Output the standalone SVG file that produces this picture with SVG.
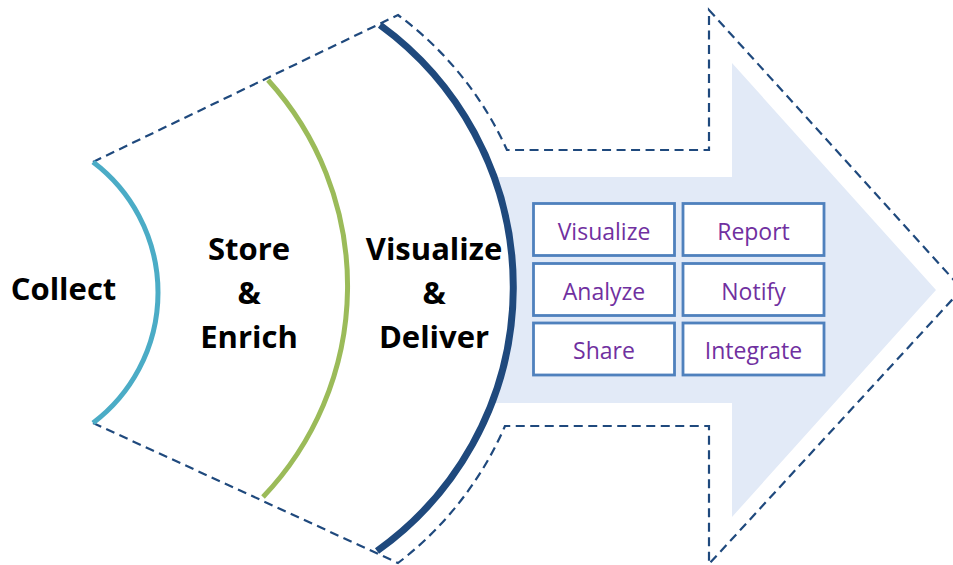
<svg xmlns="http://www.w3.org/2000/svg" width="953" height="565" viewBox="0 0 953 565">
  <style>
    .stage { font-family: "Open Sans", "Noto Sans", "Liberation Sans", sans-serif; font-weight: bold; font-size: 31px; fill: #000000; text-anchor: middle; }
    .item rect { fill: #ffffff; stroke: #4f81bd; stroke-width: 2.8; }
    .item text { font-family: "Open Sans", "Noto Sans", "Liberation Sans", sans-serif; font-size: 23px; fill: #7030a0; text-anchor: middle; }
    .outline { fill: none; stroke: #1f497d; stroke-width: 2.2; stroke-dasharray: 9 5.5; }
    .band { fill: none; stroke-linecap: butt; }
  </style>

  <!-- Light pointer arrow behind the output boxes -->
  <g id="output-arrow">
    <path d="M493,177 L732,177 L732,63 L936,290 L732,517 L732,403 L493,403 A324,324 0 0 0 493,177 Z" fill="#e2eaf7"/>
  </g>

  <!-- Dashed outline framing the whole flow -->
  <g id="connectors">
    <path class="outline" d="M93,162 L398,15 A345,345 0 0 1 507,150 L709,150 L709,10 L962,289 L709,564 L709,426 L505,426 A345,345 0 0 1 398,563 L93,423"/>
  </g>

  <!-- Stage boundaries -->
  <g id="collect">
    <path class="band" d="M93,162 A163.5,163.5 0 0 1 93,423" stroke="#4bacc6" stroke-width="5"/>
    <text class="stage" x="63.5" y="300">Collect</text>
  </g>

  <g id="store-enrich">
    <path class="band" d="M268,80 A306,306 0 0 1 263,497" stroke="#9bbb59" stroke-width="5"/>
    <text class="stage" x="249" y="260">Store</text>
    <text class="stage" x="249" y="304">&amp;</text>
    <text class="stage" x="249" y="348">Enrich</text>
  </g>

  <g id="visualize-deliver">
    <path class="band" d="M380,25 A324,324 0 0 1 377,551" stroke="#1f497d" stroke-width="7"/>
    <text class="stage" x="434" y="260">Visualize</text>
    <text class="stage" x="434" y="304">&amp;</text>
    <text class="stage" x="434" y="348">Deliver</text>
  </g>

  <!-- Output capabilities -->
  <g id="item-visualize" class="item">
    <rect x="533.5" y="203.5" width="141" height="52"/>
    <text x="604" y="239.5">Visualize</text>
  </g>
  <g id="item-report" class="item">
    <rect x="683" y="203.5" width="141" height="52"/>
    <text x="753.5" y="239.5">Report</text>
  </g>
  <g id="item-analyze" class="item">
    <rect x="533.5" y="263.5" width="141" height="52"/>
    <text x="604" y="299.5">Analyze</text>
  </g>
  <g id="item-notify" class="item">
    <rect x="683" y="263.5" width="141" height="52"/>
    <text x="753.5" y="299.5">Notify</text>
  </g>
  <g id="item-share" class="item">
    <rect x="533.5" y="323" width="141" height="52"/>
    <text x="604" y="358.5">Share</text>
  </g>
  <g id="item-integrate" class="item">
    <rect x="683" y="323" width="141" height="52"/>
    <text x="753.5" y="358.5">Integrate</text>
  </g>
</svg>
